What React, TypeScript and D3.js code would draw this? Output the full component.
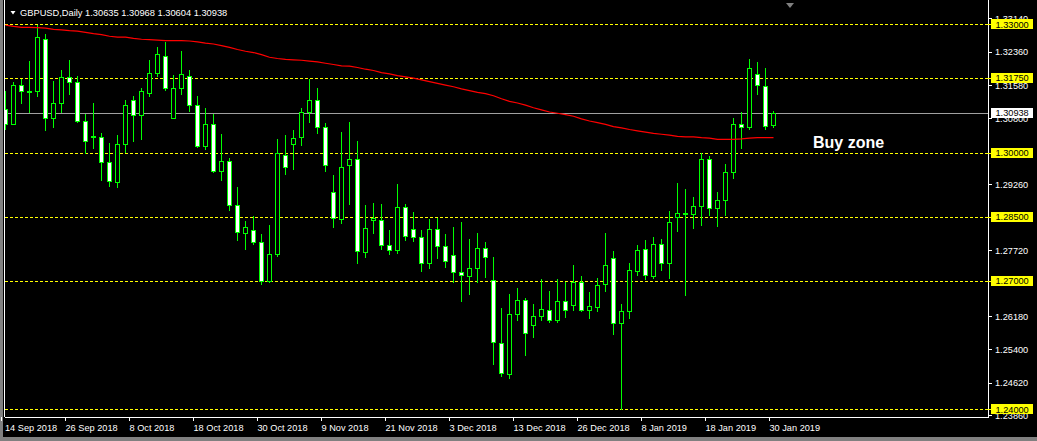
import React from 'react';
import * as d3 from 'd3';

const opens = [1.3102,1.3068,1.3157,1.3144,1.3143,1.3265,1.3082,1.3115,1.3176,1.3164,1.3073,1.3038,1.3037,1.2977,1.2931,1.3021,1.3122,1.3087,1.3140,1.3187,1.3225,1.3082,1.3150,1.3178,1.3112,1.3016,1.3068,1.2957,1.2981,1.2878,1.2812,1.2820,1.2791,1.2699,1.2762,1.2995,1.3021,1.3037,1.3095,1.3124,1.3061,1.2909,1.2845,1.2970,1.2985,1.2768,1.2843,1.2843,1.2784,1.2773,1.2873,1.2822,1.2803,1.2742,1.2822,1.2782,1.2761,1.2721,1.2712,1.2730,1.2777,1.2702,1.2555,1.2482,1.2623,1.2655,1.2597,1.2618,1.2632,1.2609,1.2653,1.2644,1.2698,1.2632,1.2639,1.2693,1.2754,1.2602,1.2630,1.2723,1.2775,1.2712,1.2787,1.2742,1.2850,1.2858,1.2857,1.2876,1.2984,1.2871,1.2890,1.2955,1.3066,1.3061,1.3183,1.3155,1.30635];
const highs = [1.3144,1.3164,1.3172,1.3214,1.3298,1.3277,1.3167,1.3193,1.3216,1.3178,1.3090,1.3116,1.3047,1.3022,1.3041,1.3123,1.3132,1.3151,1.3216,1.3247,1.3259,1.3181,1.3237,1.3193,1.3132,1.3104,1.3090,1.3043,1.2988,1.2919,1.2841,1.2852,1.2810,1.2830,1.3033,1.3041,1.3054,1.3105,1.3173,1.3150,1.3069,1.2947,1.3048,1.3071,1.3028,1.2877,1.2883,1.2880,1.2818,1.2926,1.2880,1.2862,1.2818,1.2845,1.2848,1.2809,1.2825,1.2839,1.2797,1.2811,1.2790,1.2757,1.2637,1.2670,1.2684,1.2660,1.2645,1.2705,1.2677,1.2705,1.2698,1.2738,1.2712,1.2674,1.2707,1.2812,1.2770,1.2646,1.2742,1.2784,1.2796,1.2803,1.2798,1.2864,1.2930,1.2914,1.2897,1.3000,1.2993,1.2909,1.2974,1.3080,1.3094,1.3218,1.3211,1.3199,1.30968];
const lows = [1.3056,1.3066,1.3116,1.3095,1.3133,1.3054,1.3060,1.3094,1.3137,1.3072,1.2999,1.3011,1.2937,1.2921,1.2919,1.3002,1.3027,1.3031,1.3132,1.3179,1.3146,1.3081,1.3137,1.3097,1.3013,1.3008,1.2955,1.2936,1.2866,1.2795,1.2774,1.2787,1.2692,1.2698,1.2758,1.2950,1.2962,1.3019,1.3072,1.3045,1.2957,1.2826,1.2836,1.2880,1.2742,1.2755,1.2812,1.2775,1.2762,1.2765,1.2796,1.2793,1.2723,1.2730,1.2753,1.2732,1.2697,1.2654,1.2669,1.2697,1.2709,1.2505,1.2477,1.2474,1.2609,1.2528,1.2570,1.2609,1.2604,1.2604,1.2615,1.2632,1.2630,1.2613,1.2630,1.2677,1.2577,1.2400,1.2613,1.2714,1.2705,1.2707,1.2726,1.2707,1.2816,1.2667,1.2824,1.2831,1.2855,1.2829,1.2855,1.2941,1.3012,1.3056,1.3136,1.3056,1.30604];
const closes = [1.3068,1.3157,1.3145,1.3145,1.3270,1.3080,1.3115,1.3176,1.3164,1.3075,1.3027,1.3037,1.2977,1.2934,1.3021,1.3112,1.3087,1.3143,1.3187,1.3230,1.3150,1.3150,1.3183,1.3112,1.3016,1.3066,1.2957,1.2981,1.2877,1.2814,1.2827,1.2791,1.2699,1.2763,1.2998,1.2967,1.3035,1.3095,1.3124,1.3061,1.2971,1.2848,1.2967,1.2984,1.2769,1.2824,1.2848,1.2784,1.2773,1.2873,1.2805,1.2803,1.2742,1.2822,1.2782,1.2746,1.2720,1.2714,1.2730,1.2777,1.2755,1.2557,1.2484,1.2623,1.2655,1.2578,1.2618,1.2634,1.2609,1.2653,1.2632,1.2698,1.2632,1.2641,1.2691,1.2737,1.2602,1.2630,1.2726,1.2773,1.2714,1.2787,1.2742,1.2838,1.2859,1.2859,1.2876,1.2984,1.2871,1.2890,1.2955,1.3068,1.3061,1.3197,1.3157,1.3063,1.30938];
const movingAvg = [1.3298,1.3295,1.3293,1.3293,1.3292,1.3291,1.3288,1.3287,1.3285,1.3284,1.3281,1.3278,1.3276,1.3272,1.3270,1.3270,1.3267,1.3265,1.3264,1.3263,1.3262,1.3262,1.3262,1.3261,1.3259,1.3256,1.3254,1.3250,1.3246,1.3241,1.3237,1.3234,1.3229,1.3223,1.3220,1.3218,1.3217,1.3216,1.3214,1.3212,1.3209,1.3206,1.3203,1.3202,1.3199,1.3195,1.3192,1.3187,1.3184,1.3180,1.3177,1.3174,1.3170,1.3166,1.3162,1.3158,1.3154,1.3149,1.3145,1.3141,1.3138,1.3133,1.3126,1.3120,1.3116,1.3111,1.3105,1.3100,1.3095,1.3092,1.3089,1.3085,1.3079,1.3074,1.3070,1.3066,1.3061,1.3058,1.3054,1.3051,1.3048,1.3045,1.3043,1.3041,1.3038,1.3037,1.3037,1.3035,1.3034,1.3031,1.3031,1.3031,1.3032,1.3034,1.3035,1.3035,1.3035];

const dateLabels = ['14 Sep 2018','26 Sep 2018','8 Oct 2018','18 Oct 2018','30 Oct 2018','9 Nov 2018','21 Nov 2018','3 Dec 2018','13 Dec 2018','26 Dec 2018','8 Jan 2019','18 Jan 2019','30 Jan 2019'];
const dateLabelBars = [0,8,16,24,32,40,48,56,64,72,80,88,96];
const priceTicks = [1.3314,1.3236,1.3158,1.3080,1.2926,1.2772,1.2618,1.2540,1.2462,1.2386];
const levels = [1.33,1.3175,1.30,1.285,1.27,1.24];
const currentPrice = 1.30938;
const headerText = 'GBPUSD,Daily  1.30635 1.30968 1.30604 1.30938';
const annotation = 'Buy zone';

const W = 1037, H = 441;
const FONT = '"Liberation Sans", Arial, sans-serif';

export default function App() {
  const n = closes.length;
  const x = d3.scaleLinear().domain([0, n - 1]).range([5, 5 + 8 * (n - 1)]);
  const y = d3.scaleLinear().domain([1.24, 1.33]).range([409.3, 24.3]);
  const py = (p: number) => Math.round(y(p)) + 0.5;
  const plotRight = 988;
  const plotBottom = 417;

  const maLine = d3.line<number>().x((_, i) => x(i) + 0.5).y(d => y(d));

  return (
    <svg width={W} height={H} style={{ position: 'absolute', left: 0, top: 0, background: '#000' }} fontFamily={FONT}>
      <rect x={0} y={0} width={W} height={H} fill="#000" />
      <defs>
        <clipPath id="plot">
          <rect x={5} y={0} width={plotRight - 5} height={plotBottom} />
        </clipPath>
      </defs>

      {/* level lines */}
      {levels.map((l, i) => (
        <line key={'lv' + i} x1={5} x2={plotRight} y1={py(l)} y2={py(l)} stroke="#ffff00" strokeDasharray="3,2" shapeRendering="crispEdges" />
      ))}
      {/* current price line */}
      <line x1={5} x2={plotRight} y1={py(currentPrice)} y2={py(currentPrice)} stroke="#a0a0a0" shapeRendering="crispEdges" />

      <g clipPath="url(#plot)">
        {closes.map((c, i) => {
          const o = opens[i];
          const cx = Math.round(x(i)) + 0.5;
          const top = Math.round(y(Math.max(o, c)));
          const bot = Math.round(y(Math.min(o, c)));
          const bull = c >= o;
          return (
            <g key={'c' + i} shapeRendering="crispEdges">
              <line x1={cx} x2={cx} y1={Math.round(y(highs[i]))} y2={Math.round(y(lows[i])) + 1} stroke="#00ff00" />
              <rect x={cx - 2} y={top + 0.5} width={4} height={Math.max(1, bot - top)} fill={bull ? '#000' : '#fff'} stroke="#00ff00" />
            </g>
          );
        })}
        <path d={maLine(movingAvg) || ''} fill="none" stroke="#ff0000" strokeWidth={1.2} />
      </g>

      {/* frame */}
      <rect x={0} y={0} width={3} height={H} fill="#808080" />
      <line x1={4.5} x2={4.5} y1={0} y2={plotBottom} stroke="#fff" shapeRendering="crispEdges" />
      <line x1={plotRight + 0.5} x2={plotRight + 0.5} y1={0} y2={plotBottom + 0.5} stroke="#fff" shapeRendering="crispEdges" />
      <line x1={4.5} x2={plotRight + 0.5} y1={plotBottom + 0.5} y2={plotBottom + 0.5} stroke="#fff" shapeRendering="crispEdges" />
      <rect x={0} y={437} width={W} height={4} fill="#808080" />

      {/* price axis labels */}
      {priceTicks.map((p, i) => (
        <g key={'pt' + i}>
          <line x1={plotRight} x2={992} y1={py(p)} y2={py(p)} stroke="#fff" shapeRendering="crispEdges" />
          <text x={995} y={y(p) + 3.5} fill="#fff" fontSize={9.2}>{p.toFixed(5)}</text>
        </g>
      ))}
      {levels.map((l, i) => (
        <g key={'lb' + i}>
          <line x1={plotRight} x2={991} y1={py(l)} y2={py(l)} stroke="#ffff00" shapeRendering="crispEdges" />
          <rect x={991} y={Math.round(y(l)) - 5} width={42} height={10} fill="#ffff00" />
          <text x={995.5} y={y(l) + 3.5} fill="#000" fontSize={9.2}>{l.toFixed(5)}</text>
        </g>
      ))}
      <rect x={991} y={Math.round(y(currentPrice)) - 5} width={42} height={10} fill="#fff" />
      <text x={995.5} y={y(currentPrice) + 3.5} fill="#000" fontSize={9.2}>{currentPrice.toFixed(5)}</text>

      {/* date axis */}
      {dateLabels.map((d, i) => {
        const tx = Math.round(x(dateLabelBars[i])) - 4 + 0.5;
        return (
          <g key={'dl' + i}>
            <line x1={tx} x2={tx} y1={plotBottom} y2={plotBottom + 4} stroke="#fff" shapeRendering="crispEdges" />
            <text x={Math.max(5, tx)} y={431} fill="#fff" fontSize={9.2}>{d}</text>
          </g>
        );
      })}

      {/* header */}
      <path d="M10.5,11 L15.5,11 L13,14.5 Z" fill="#fff" />
      <text x={20} y={15.5} fill="#fff" fontSize={9.3}>{headerText}</text>
      <path d="M786,3 L794,3 L790,8 Z" fill="#808080" />

      {/* annotation */}
      <text x={813} y={148} fill="#fff" fontSize={16} fontWeight="bold">{annotation}</text>
    </svg>
  );
}
